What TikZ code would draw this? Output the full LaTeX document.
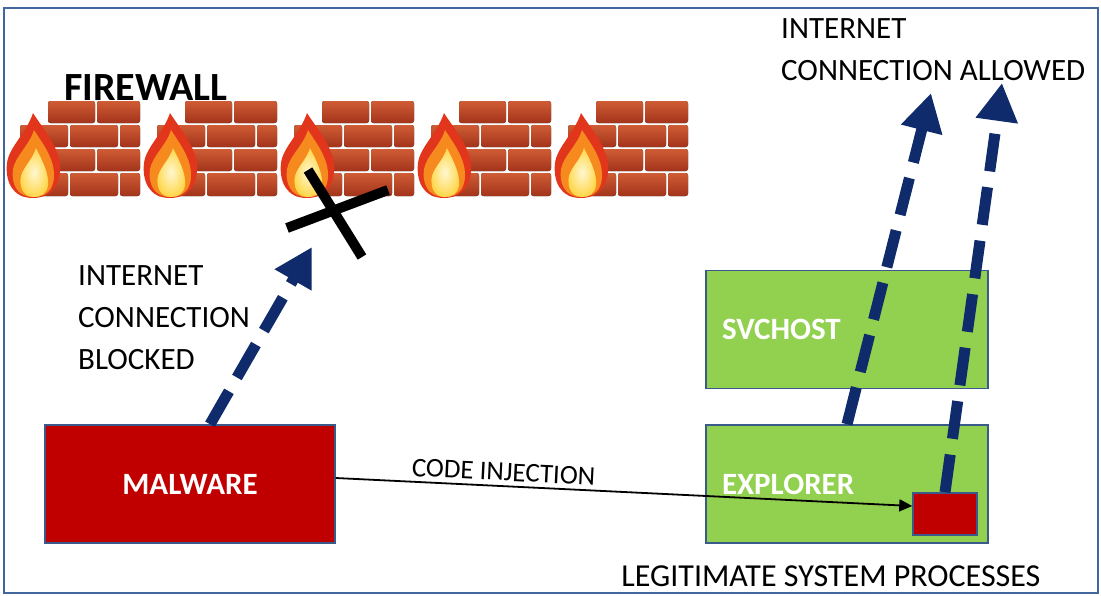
\documentclass[tikz,border=0pt]{standalone}
\usepackage{fontspec}
\setmainfont{Carlito}
\usepackage{tikz}
\usetikzlibrary{arrows.meta,positioning,calc}
\definecolor{fwframe}{HTML}{41679E}
\definecolor{fwedge}{HTML}{3A5A8C}
\definecolor{fwred}{HTML}{C00000}
\definecolor{fwgreen}{HTML}{92D050}
\definecolor{fwnavy}{HTML}{0F2B6B}
\definecolor{fwbricktop}{HTML}{CF5C34}
\definecolor{fwbrickbot}{HTML}{A3341B}
\definecolor{fwflame}{HTML}{E2361C}
\definecolor{fwflamemid}{HTML}{F68A1F}
\definecolor{fwflamein}{HTML}{FFD64A}
\definecolor{fwflamecore}{HTML}{FFF8D0}
\newcommand{\bigtext}{\fontsize{31}{42}\selectfont}

\begin{document}
\begin{tikzpicture}[
  x=1pt, y=-1pt,
  font=\bigtext,
  node distance=35pt and 20pt,
  box/.style={draw=fwedge, line width=1.5pt, minimum height=118pt, inner sep=0pt},
  malbox/.style={box, fill=fwred, minimum width=290pt, text=white, font=\bigtext\bfseries},
  procbox/.style={box, fill=fwgreen, text width=250pt, inner xsep=16pt, align=left,
                  text=white, font=\bigtext\bfseries},
  injbox/.style={draw=fwedge, line width=1.5pt, fill=fwred, minimum width=64pt,
                 minimum height=42pt, inner sep=0pt},
  note/.style={inner sep=0pt, align=left},
  netarrow/.style={-{Triangle[length=38pt,width=40pt]}, line width=11pt, draw=fwnavy,
                   dash pattern=on 38pt off 16pt},
  inject/.style={-{Triangle[length=13pt,width=12pt]}, line width=1.8pt},
  xmark/.style={line width=10pt},
  brick/.style={rounded corners=2.5pt, top color=fwbricktop, bottom color=fwbrickbot}
]
\useasboundingbox (0,0) rectangle (1101,595);
\draw[fwframe, line width=2pt] (4,8) rectangle (1098,593);

% wall: a block of bricks with a flame in front, five times
\foreach \i in {0,...,4} {
  \begin{scope}[shift={(\i*137,0)}]
    \foreach \xa/\ya/\xb/\yb in {48/101/95/123, 97/101/140/123,
                                 20/125/68/147, 70/125/118/147, 120/125/140/147,
                                 22/149/95/171, 97/149/140/171,
                                 20/173/68/196, 70/173/118/196, 120/173/140/196}
      \fill[brick] (\xa,\ya) rectangle (\xb,\yb);
    \fill[fwflame] (33,198) .. controls (12,198) and (5,181) .. (7,163)
      .. controls (9,147) and (26,134) .. (33,113)
      .. controls (42,127) and (53,140) .. (58,155)
      .. controls (64,173) and (58,198) .. (33,198) -- cycle;
    \fill[fwflamemid] (33,197) .. controls (16,197) and (11,182) .. (13,169)
      .. controls (16,155) and (29,146) .. (34,130)
      .. controls (43,144) and (54,158) .. (54,175)
      .. controls (54,190) and (46,197) .. (33,197) -- cycle;
    \shade[inner color=fwflamecore, outer color=fwflamein]
      (34,197) .. controls (22,197) and (19,185) .. (21,176)
      .. controls (24,166) and (33,159) .. (36,148)
      .. controls (43,162) and (49,174) .. (48,185)
      .. controls (47,194) and (41,197) .. (34,197) -- cycle;
  \end{scope}
}
\node[note, font=\fontsize{40}{48}\selectfont\bfseries, anchor=north west] (firewall) at (64,74) {FIREWALL};

% processes
\node[malbox] (malware) at (190,484) {MALWARE};
\node[procbox] (explorer) at (847,484) {EXPLORER};
\node[procbox, above=35pt of explorer] (svchost) {SVCHOST};
\node[injbox] (inj) at (945,514) {};

\node[note, anchor=north west] (blocked) at (78,265) {INTERNET\\CONNECTION\\BLOCKED};
\node[note, anchor=north west] (allowed) at (781,18) {INTERNET\\CONNECTION ALLOWED};
\node[note, font=\fontsize{32}{40}\selectfont] (legit) at (831,576) {LEGITIMATE SYSTEM PROCESSES};

\draw[inject] ([yshift=6pt]malware.east) --
  node[pos=0.29, sloped, above=1pt, font=\fontsize{27}{32}\selectfont] (injlabel) {CODE INJECTION}
  ([yshift=8pt]inj.west);

% connections out to the internet
\coordinate (blockTip) at (312,247);
\coordinate (netA) at (931,93);
\coordinate (netB) at (1002,83);
\draw[netarrow] ([xshift=20pt]malware.north) -- (blockTip);
\draw[netarrow] (explorer.north) -- (netA);
\draw[netarrow] (inj.north) -- (netB);

% blocked
\coordinate (cross) at (336,213);
\draw[xmark] ($(cross)+(-28,-43)$) -- ($(cross)+(26,44)$);
\draw[xmark] ($(cross)+(-49,15)$) -- ($(cross)+(52,-23)$);
\end{tikzpicture}
\end{document}
